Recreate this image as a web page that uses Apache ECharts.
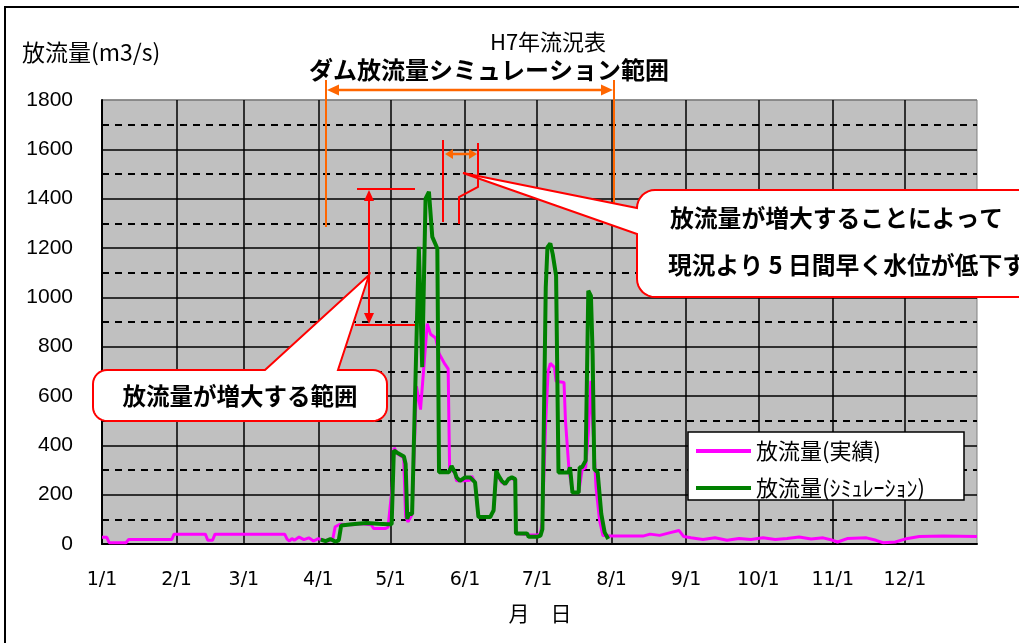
<!DOCTYPE html>
<html><head><meta charset="utf-8">
<script src="https://cdn.jsdelivr.net/npm/echarts@6/dist/echarts.min.js"></script>
<style>html,body{margin:0;padding:0;background:#fff}#c{width:1019px;height:643px}</style>
</head><body><div id="c"></div>
<script>
// ---- data ----
const monthDays = [0,31,59,90,120,151,181,212,243,273,304,334];
const monthLabels = ['1/1','2/1','3/1','4/1','5/1','6/1','7/1','8/1','9/1','10/1','11/1','12/1'];
const seriesNames = ['放流量(実績)','放流量(ｼﾐｭﾚｰｼｮﾝ)'];
// [day of year, m3/s]
const actualFlow = [[0,27],[2,27],[3,5],[10,5],[11,18],[29,18],[30,40],[43,40],[44,15],[46,15],[47,40],[76,40],[77,20],[78,12],[79,22],[80,15],[82,28],[84,18],[86,25],[88,12],[90,22],[92,15],[94,12],[96,20],[97,70],[99,80],[104,78],[108,82],[112,78],[113,63],[118,63],[119,68],[120.7,230],[121.5,390],[123,365],[125.5,350],[126.3,110],[127.3,90],[129,120],[130.8,640],[132.5,545],[135.3,893],[136.7,850],[138.8,835],[140.2,772],[142.6,730],[144,710],[144.6,303],[145.4,303],[146.8,290],[147.5,256],[151,256],[153.1,258],[153.8,276],[155.2,250],[156.6,109],[161.5,109],[162.2,123],[162.9,136],[164,290],[165,270],[166.3,250],[167.7,243],[169.1,263],[170.5,265],[171.9,260],[172.2,43],[176.8,38],[181,36],[182.4,41],[183.2,100],[184.6,500],[185.6,702],[186.5,732],[188.2,716],[188.9,660],[192.2,655],[192.8,500],[194.3,297],[195.4,230],[196.1,209],[198.3,209],[199.7,300],[201.2,310],[202.3,450],[203.4,662],[204.1,500],[205.5,230],[207,95],[208.4,34],[212,32],[225,32],[228,40],[232,35],[236,45],[240,55],[242,30],[245,25],[250,18],[255,25],[260,15],[265,22],[270,18],[275,25],[280,18],[285,22],[290,28],[295,20],[300,25],[304,15],[306,8],[310,22],[318,25],[322,15],[325,5],[330,8],[334,20],[340,30],[350,32],[364,30]];
const simFlow = [[91,18],[93,12],[95,20],[97,10],[98.5,15],[99.5,75],[104,80],[110,85],[115,82],[119,80],[120.5,80],[121.4,379],[122.8,370],[125.6,355],[126.3,325],[127,101],[127.6,122],[129,122],[131.8,1205],[133.2,717],[134.6,1400],[136,1428],[137.4,1245],[139.5,1198],[140.2,291],[144.3,291],[145.4,316],[146.8,290],[147.5,270],[148.9,256],[151,270],[153.1,270],[153.8,276],[155.2,250],[156.6,109],[161.5,109],[162.2,123],[162.9,136],[164,296],[165,276],[166.3,256],[167.7,243],[169.1,263],[170.5,270],[171.9,263],[172.2,43],[176.8,43],[177.5,29],[181,29],[182.4,34],[183.2,60],[184.6,1040],[185.3,1202],[186.5,1219],[187.5,1175],[188.9,1088],[189.9,290],[194,290],[194.7,311],[195.7,209],[198.3,209],[198.7,311],[199.7,311],[201.2,338],[202.3,1027],[203.4,1006],[204.1,770],[204.8,304],[206.2,290],[207.7,122],[209.1,47],[210.6,20]];

// ---- drawing ----
const JP = "'Noto Sans CJK JP', sans-serif";
const RED = '#FF0000', ORANGE = '#FF6600';

function txt(text, x, y, size, opt) {
  opt = opt || {};
  return { type:'text', x:x, y:y, z:20, style:{ text:text, fill:'#000',
    font:(opt.bold?'bold ':'') + size + 'px ' + (opt.family || JP),
    align:opt.align || 'center', textAlign:opt.align || 'center',
    verticalAlign:'middle', textVerticalAlign:'middle' } };
}
function seg(x1,y1,x2,y2,color,w) {
  return { type:'line', z:15, shape:{x1:x1,y1:y1,x2:x2,y2:y2}, style:{stroke:color, lineWidth:w||2} };
}
function head(tx,ty,dx,dy,len,hw,color) {
  const bx = tx - dx*len, by = ty - dy*len, px = -dy, py = dx;
  return { type:'polygon', z:16, shape:{points:[[tx,ty],[bx+px*hw,by+py*hw],[bx-px*hw,by-py*hw]]}, style:{fill:color} };
}
function arc(cx,cy,r,a0,a1) {
  const pts = [];
  for (let i=0;i<=8;i++) { const a=(a0+(a1-a0)*i/8)*Math.PI/180; pts.push([cx+r*Math.cos(a), cy+r*Math.sin(a)]); }
  return pts;
}
// callout 1
const c1 = [].concat(
  arc(93+14,370+14,14,180,270),
  [[265,370],[369,275],[338,370]],
  arc(387-14,370+14,14,270,360),
  arc(387-14,421-14,14,0,90),
  arc(93+14,421-14,14,90,180));
// callout 2
const c2 = [].concat(
  arc(637+18,190+18,18,180,270),
  [[1045,190],[1045,297]],
  arc(637+18,297-18,18,90,180),
  [[637,234],[463,173],[637,208]]);

const graphics = [
  { type:'polyline', z:20, shape:{points:[[5,643],[5,7],[1019,7]]}, style:{stroke:'#000', lineWidth:2, fill:null} },
  txt('H7年流況表', 548, 42, 22),
  txt('ダム放流量シミュレーション範囲', 489, 70, 24, {bold:true}),
  txt('放流量(m3/s)', 22, 52, 23, {align:'left'}),
  txt('月　日', 540, 613, 21),
  // orange range arrow
  seg(326,80,326,227,ORANGE,2), seg(614,80,614,212,ORANGE,2),
  seg(332,90,608,90,ORANGE,2.5), head(327,90,-1,0,12,5.5,ORANGE), head(613,90,1,0,12,5.5,ORANGE),
  seg(450,154,472,154,ORANGE,2.5), head(445,154,-1,0,8,5,ORANGE), head(477,154,1,0,8,5,ORANGE),
  // red bracket
  seg(443,140,443,222,RED,2),
  { type:'polyline', z:15, shape:{points:[[478,143],[478,187],[459,197],[459,224]]}, style:{stroke:RED, lineWidth:2, fill:null} },
  // red range arrow
  seg(357,189,415,189,RED,2), seg(355,325,415,325,RED,2),
  seg(369,198,369,316,RED,2), head(369,190,0,-1,11,5,RED), head(369,324,0,1,11,5,RED),
  // callouts
  { type:'polygon', z:18, shape:{points:c1}, style:{fill:'#fff', stroke:RED, lineWidth:2} },
  txt('放流量が増大する範囲', 240, 396, 23.5, {bold:true}),
  { type:'polygon', z:18, shape:{points:c2}, style:{fill:'#fff', stroke:RED, lineWidth:2} },
  txt('放流量が増大することによって', 670, 218, 23.8, {bold:true, align:'left'}),
  txt('現況より 5 日間早く水位が低下する', 668, 265, 23.8, {bold:true, align:'left'}),
  // legend box
  { type:'rect', z:3, shape:{x:688, y:432, width:276, height:68}, style:{fill:'#fff', stroke:'#000', lineWidth:1.5} }
];

const chart = echarts.init(document.getElementById('c'));
chart.setOption({
  animation:false,
  backgroundColor:'#fff',
  grid:{ left:102, right:42, top:100, bottom:99, show:true, backgroundColor:'#C0C0C0', borderColor:'#808080', borderWidth:1, containLabel:false, outerBoundsMode:'none' },
  legend:{ data:seriesNames, orient:'vertical', left:696, top:440, itemWidth:55, itemHeight:4, itemGap:15, icon:'rect', padding:0,
    textStyle:{ fontSize:22, fontFamily:JP, color:'#000' }, z:5 },
  xAxis:{ type:'value', min:0, max:364,
    axisLine:{ show:true, lineStyle:{ color:'#000', width:2 } },
    axisTick:{ show:false, customValues:monthDays },
    axisLabel:{ customValues:monthDays, formatter:function(v){ return monthLabels[monthDays.indexOf(v)]; }, fontSize:19, fontFamily:'DejaVu Sans', color:'#000', margin:27 },
    splitLine:{ show:true, lineStyle:{ color:'#000', width:1.5 } } },
  yAxis:{ type:'value', min:0, max:1800, interval:200,
    axisLine:{ show:true, lineStyle:{ color:'#000', width:2 } },
    axisTick:{ show:false },
    axisLabel:{ formatter:function(v){ return String(v); }, fontSize:21, fontFamily:'Liberation Sans', color:'#000', margin:29 },
    splitLine:{ show:true, lineStyle:{ color:['#000','#000','#000','#000','#000','#000','#000','#000','#000','#808080'], width:1.5 } },
    minorTick:{ show:false, splitNumber:2 },
    minorSplitLine:{ show:true, lineStyle:{ color:'#000', width:1.8, type:[7,6] } } },
  series:[
    { name:seriesNames[0], type:'line', data:actualFlow, symbol:'none', showSymbol:false, z:2,
      lineStyle:{ color:'#FF00FF', width:3 }, itemStyle:{ color:'#FF00FF' } },
    { name:seriesNames[1], type:'line', data:simFlow, symbol:'none', showSymbol:false, z:3,
      lineStyle:{ color:'#008000', width:4 }, itemStyle:{ color:'#008000' } }
  ],
  graphic:{ elements:graphics }
});
</script></body></html>
